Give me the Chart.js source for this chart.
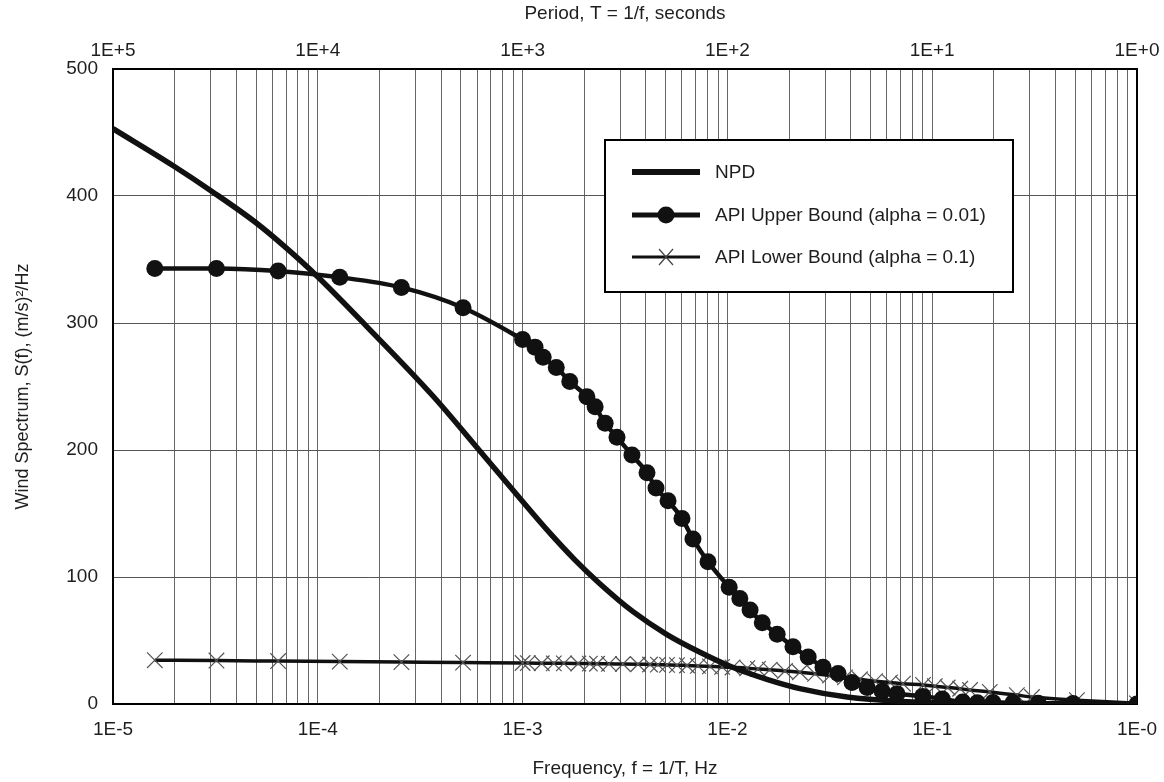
<!DOCTYPE html>
<html>
<head>
<meta charset="utf-8">
<script src="https://cdn.jsdelivr.net/npm/chart.js@4/dist/chart.umd.min.js"></script>
<style>
  html, body { margin: 0; padding: 0; background: #fff; }
  #wrap { width: 1164px; height: 782px; position: relative; }
</style>
</head>
<body>
<div id="wrap"><canvas id="spectre"></canvas></div>
<script>
// frequences (Hz) et valeurs
const npdFreq = [1e-5, 1.96e-5, 3.08e-5, 4.94e-5, 6.85e-5, 9.9e-5, 1.74e-4, 3.65e-4, 6.2e-4, 9.4e-4,
    1.36e-3, 1.8e-3, 2.39e-3, 3.46e-3, 5.07e-3, 7.35e-3, 1.06e-2, 1.56e-2, 2.26e-2, 3.84e-2,
    8.05e-2, 0.214, 1];
const npdValues = [453, 424, 403, 379.5, 360.5, 337, 297, 242.5, 199, 164.5,
    134.5, 113.5, 94.5, 72.7, 54.7, 40.8, 28.9, 19.4, 12.1, 5.5,
    1.6, 0.3, 0];

const upperFreq = [1.6e-5, 3.2e-5, 6.4e-5, 1.28e-4, 2.56e-4, 5.12e-4, 1.0e-3, 1.15e-3, 1.26e-3, 1.46e-3,
    1.7e-3, 2.06e-3, 2.26e-3, 2.53e-3, 2.89e-3, 3.42e-3, 4.05e-3, 4.48e-3, 5.13e-3, 6.0e-3,
    6.79e-3, 8.04e-3, 1.02e-2, 1.15e-2, 1.29e-2, 1.48e-2, 1.75e-2, 2.09e-2, 2.48e-2, 2.93e-2,
    3.47e-2, 4.06e-2, 4.81e-2, 5.7e-2, 6.73e-2, 9.0e-2, 0.112, 0.141, 0.166, 0.198,
    0.248, 0.329, 0.487, 1];
const upperValues = [343, 343, 341, 336, 328, 312, 287, 281, 273, 265,
    254, 242, 234, 221, 210, 196, 182, 170, 160, 146,
    130, 112, 92, 83, 74, 64, 55, 45, 37, 29,
    24, 17, 13, 10, 8, 6, 4, 1.5, 1, 1.2,
    1, 0.6, 0.3, 0];

const lowerFreq = [1.6e-5, 3.2e-5, 6.4e-5, 1.28e-4, 2.56e-4, 5.12e-4, 1.0e-3, 1.06e-3, 1.24e-3, 1.42e-3,
    1.59e-3, 1.87e-3, 2.13e-3, 2.31e-3, 2.64e-3, 3.09e-3, 3.66e-3, 4.19e-3, 4.58e-3, 5.07e-3,
    5.67e-3, 6.35e-3, 7.18e-3, 8.22e-3, 9.42e-3, 1.06e-2, 1.25e-2, 1.41e-2, 1.61e-2, 1.91e-2,
    2.26e-2, 2.68e-2, 3.17e-2, 3.75e-2, 4.44e-2, 5.26e-2, 6.22e-2, 7.2e-2, 9.02e-2, 0.103,
    0.119, 0.137, 0.153, 0.191, 0.259, 0.307, 0.509, 1];
const lowerValues = [34.5, 34.2, 33.8, 33.4, 33, 32.6, 32.3, 32.2, 32.1, 32,
    32, 31.9, 31.8, 31.7, 31.6, 31.5, 31.3, 31.1, 31, 30.8,
    30.6, 30.3, 30, 29.6, 29.2, 28.8, 28.2, 27.6, 27, 26,
    25, 23.8, 22.5, 21, 19.5, 18, 17, 16, 15, 14,
    13, 12, 11, 9.5, 7, 5.5, 3, 0.5];

// graduations
const freqDecades = [1e-5, 1e-4, 1e-3, 1e-2, 1e-1, 1];
const freqLabels = ['1E-5', '1E-4', '1E-3', '1E-2', '1E-1', '1E-0'];
const periodDecades = [1e5, 1e4, 1e3, 1e2, 1e1, 1];
const periodLabels = ['1E+5', '1E+4', '1E+3', '1E+2', '1E+1', '1E+0'];
const yTicks = [0, 100, 200, 300, 400, 500];

const police = "'Liberation Sans', Arial, Helvetica, sans-serif";
const encre = '#1e1e1e';

function points(xs, ys) {
    return xs.map(function (x, i) { return { x: x, y: ys[i] }; });
}

function minorTicks() {
    var out = [];
    for (var i = 0; i < freqDecades.length - 1; i++) {
        for (var k = 1; k <= 9; k++) out.push(k * freqDecades[i]);
    }
    out.push(freqDecades[freqDecades.length - 1]);
    return out;
}

function labelFor(value, decades, labels) {
    for (var i = 0; i < decades.length; i++) {
        if (Math.abs(value / decades[i] - 1) < 1e-6) return labels[i];
    }
    return '';
}

// on fixe la taille des axes pour garder la zone du graphe
function fixHeight(h) {
    return function (scale) {
        scale.height = h;
        scale.paddingLeft = 0;
        scale.paddingRight = 0;
    };
}

const cadre = {
    id: 'cadre',
    beforeDatasetsDraw(chart) {
        const a = chart.chartArea, ctx = chart.ctx;
        ctx.save();
        ctx.strokeStyle = '#000';
        ctx.lineWidth = 2;
        ctx.strokeRect(a.left, a.top, a.right - a.left, a.bottom - a.top);
        ctx.restore();
    }
};

const legende = {
    id: 'legende',
    afterDraw(chart) {
        const ctx = chart.ctx;
        const bx = 605, by = 140, bw = 408, bh = 152;
        ctx.save();
        ctx.fillStyle = '#fff';
        ctx.fillRect(bx, by, bw, bh);
        ctx.strokeStyle = '#000';
        ctx.lineWidth = 2;
        ctx.strokeRect(bx, by, bw, bh);
        const rows = [172, 215, 257];
        chart.data.datasets.forEach(function (ds, i) {
            const y = rows[i];
            ctx.strokeStyle = '#111';
            ctx.lineWidth = i === 2 ? 3 : (i === 0 ? 6 : 5);
            ctx.beginPath();
            ctx.moveTo(632, y);
            ctx.lineTo(700, y);
            ctx.stroke();
            if (ds.pointStyle === 'circle') {
                ctx.fillStyle = '#111';
                ctx.beginPath();
                ctx.arc(666, y, 8.5, 0, Math.PI * 2);
                ctx.fill();
            } else if (ds.pointStyle === 'crossRot') {
                ctx.strokeStyle = '#444';
                ctx.lineWidth = 1.2;
                ctx.beginPath();
                ctx.moveTo(659, y - 8); ctx.lineTo(673, y + 8);
                ctx.moveTo(673, y - 8); ctx.lineTo(659, y + 8);
                ctx.stroke();
            }
            ctx.fillStyle = encre;
            ctx.font = '19px ' + police;
            ctx.textBaseline = 'middle';
            ctx.fillText(ds.label, 715, y + 1);
        });
        ctx.restore();
    }
};

function dessinerSpectre() {
    const ctx = document.getElementById('spectre').getContext('2d');
    new Chart(ctx, {
        type: 'line',
        data: {
            datasets: [{
                label: 'NPD',
                data: points(npdFreq, npdValues),
                borderColor: '#111',
                borderWidth: 5.5,
                pointRadius: 0,
                cubicInterpolationMode: 'monotone'
            }, {
                label: 'API Upper Bound (alpha = 0.01)',
                data: points(upperFreq, upperValues),
                borderColor: '#111',
                borderWidth: 4.5,
                pointStyle: 'circle',
                pointRadius: 8.5,
                pointBackgroundColor: '#111',
                pointBorderColor: '#111',
                pointBorderWidth: 0,
                cubicInterpolationMode: 'monotone'
            }, {
                label: 'API Lower Bound (alpha = 0.1)',
                data: points(lowerFreq, lowerValues),
                borderColor: '#111',
                borderWidth: 3.5,
                pointStyle: 'crossRot',
                pointRadius: 11,
                pointBorderColor: '#555',
                pointBorderWidth: 1.2,
                cubicInterpolationMode: 'monotone'
            }]
        },
        options: {
            responsive: true,
            maintainAspectRatio: false,
            animation: false,
            layout: { padding: { left: 0, right: 27, top: 0, bottom: 0 } },
            plugins: {
                legend: { display: false },
                tooltip: { enabled: false }
            },
            scales: {
                x: {
                    type: 'logarithmic',
                    position: 'bottom',
                    min: 1e-5,
                    max: 1,
                    afterBuildTicks: function (scale) {
                        scale.ticks = minorTicks().map(function (v) { return { value: v }; });
                    },
                    afterFit: fixHeight(78),
                    ticks: {
                        autoSkip: false,
                        maxRotation: 0,
                        padding: 14,
                        color: encre,
                        font: { family: police, size: 19 },
                        callback: function (v) { return labelFor(v, freqDecades, freqLabels); }
                    },
                    grid: { color: '#666', lineWidth: 1, drawTicks: false },
                    border: { color: '#000', width: 2 },
                    title: {
                        display: true,
                        text: 'Frequency, f = 1/T, Hz',
                        color: encre,
                        font: { family: police, size: 19 },
                        padding: { top: 0, bottom: 2 }
                    }
                },
                xTop: {
                    type: 'logarithmic',
                    position: 'top',
                    reverse: true,
                    min: 1,
                    max: 1e5,
                    afterBuildTicks: function (scale) {
                        scale.ticks = periodDecades.map(function (v) { return { value: v }; });
                    },
                    afterFit: fixHeight(69),
                    ticks: {
                        autoSkip: false,
                        maxRotation: 0,
                        padding: 7,
                        color: encre,
                        font: { family: police, size: 19 },
                        callback: function (v) { return labelFor(v, periodDecades, periodLabels); }
                    },
                    grid: { display: false, drawTicks: false },
                    border: { color: '#000', width: 2 },
                    title: {
                        display: true,
                        text: 'Period, T = 1/f, seconds',
                        color: encre,
                        font: { family: police, size: 19 },
                        padding: { top: 2, bottom: 0 }
                    }
                },
                y: {
                    min: 0,
                    max: 500,
                    afterBuildTicks: function (scale) {
                        scale.ticks = yTicks.map(function (v) { return { value: v }; });
                    },
                    afterFit: function (scale) { scale.width = 113; },
                    ticks: {
                        padding: 15,
                        color: encre,
                        font: { family: police, size: 19 }
                    },
                    grid: { color: '#555', lineWidth: 1, drawTicks: false },
                    border: { color: '#000', width: 2 },
                    title: {
                        display: true,
                        text: 'Wind Spectrum, S(f), (m/s)\u00b2/Hz',
                        color: encre,
                        font: { family: police, size: 18 },
                        padding: { top: 12, bottom: 0 }
                    }
                }
            }
        },
        plugins: [cadre, legende]
    });
}
dessinerSpectre();
</script>
</body>
</html>
